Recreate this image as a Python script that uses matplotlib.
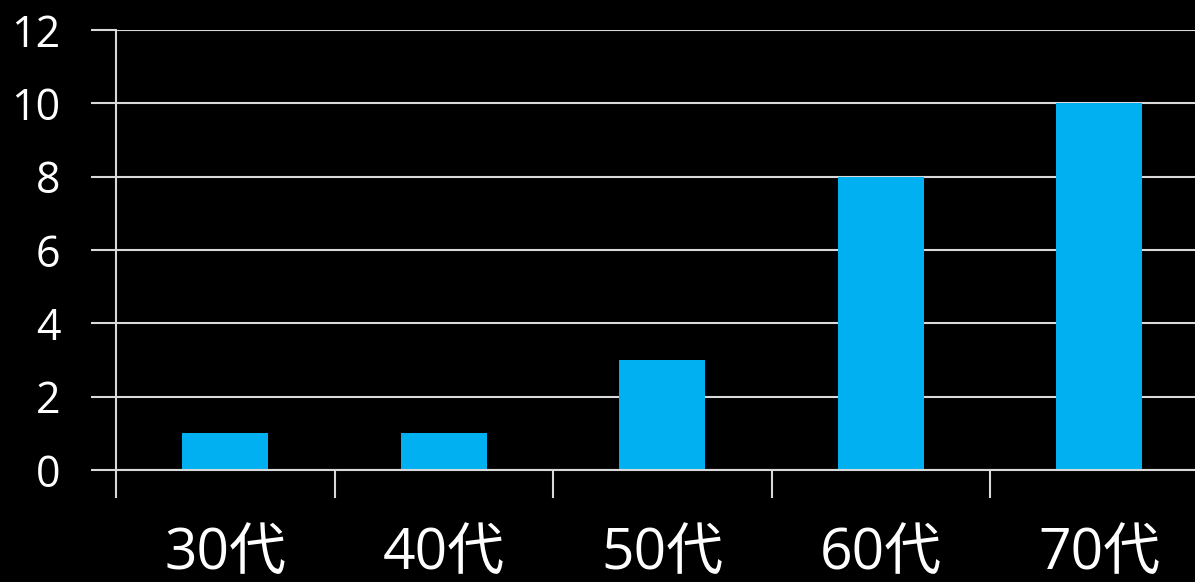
import matplotlib
matplotlib.use("Agg")
import matplotlib.pyplot as plt
import numpy as np

plt.rcParams['font.family'] = ['Open Sans', 'Noto Sans CJK JP', 'DejaVu Sans']

categories = ["30代", "40代", "50代", "60代", "70代"]
values = [1, 1, 3, 8, 10]
y_ticks = [0, 2, 4, 6, 8, 10, 12]

bar_color = "#00B0F0"
line_color = "#D9D9D9"

fig = plt.figure(figsize=(11.95, 5.82), dpi=100, facecolor="black")
W, H = 1195, 582
left, right, top, bottom = 116, 1208.5, 30, 470
ax = fig.add_axes([left / W, 1 - bottom / H, (right - left) / W, (bottom - top) / H])
ax.set_facecolor("black")

x = np.arange(len(categories))
ax.bar(x, values, width=0.395, color=bar_color, zorder=3)

ax.set_xlim(-0.5, len(categories) - 0.5)
ax.set_ylim(0, 12)
ax.set_yticks(y_ticks)
ax.set_yticklabels([str(v) for v in y_ticks], fontsize=31, color="white")
ax.yaxis.grid(True, color=line_color, linewidth=1.5, zorder=1)

# category labels centered, boundary tick marks between categories
ax.set_xticks(np.arange(len(categories) + 1) - 0.5)
ax.set_xticklabels([])
ax.set_xticks(x, minor=True)
ax.set_xticklabels(categories, minor=True, fontsize=41, color="white")
ax.tick_params(axis="x", which="major", length=20, width=1.5, color=line_color, direction="out")
ax.tick_params(axis="x", which="minor", length=0, pad=40)
ax.tick_params(axis="y", length=18, width=1.5, color=line_color, pad=22)

for side in ["top", "right"]:
    ax.spines[side].set_visible(False)
ax.spines["left"].set_color(line_color)
ax.spines["left"].set_linewidth(1.5)
ax.spines["bottom"].set_color(line_color)
ax.spines["bottom"].set_linewidth(1.5)
ax.spines["bottom"].set_zorder(4)

fig.savefig("out.png", dpi=100, facecolor="black")
